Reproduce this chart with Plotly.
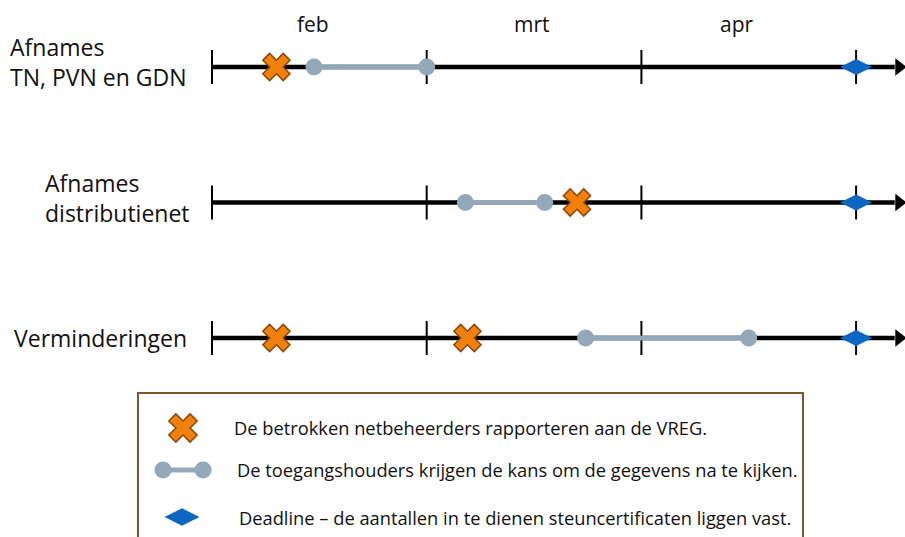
import plotly.graph_objects as go

# ---------------- data ----------------
row_labels = ["Afnames<br>TN, PVN en GDN", "Afnames<br>distributienet", "Verminderingen"]
month_labels = ["feb", "mrt", "apr"]
month_ticks = [0, 1, 2, 3]          # month boundaries (months since 1 feb)
timeline_end = 3.18                 # end of the arrow line (months)

# "De betrokken netbeheerders rapporteren aan de VREG."
report_rows = [0, 1, 2, 2]
report_x = [0.30, 1.70, 0.30, 1.19]

# "De toegangshouders krijgen de kans om de gegevens na te kijken."
review_rows = [0, 1, 2]
review_start = [0.475, 1.18, 1.74]
review_end = [1.00, 1.55, 2.50]

# Deadline
deadline_rows = [0, 1, 2]
deadline_x = [3.0, 3.0, 3.0]

legend_texts = [
    "De betrokken netbeheerders rapporteren aan de VREG.",
    "De toegangshouders krijgen de kans om de gegevens na te kijken.",
    "Deadline \u2013 de aantallen in te dienen steuncertificaten liggen vast.",
]

# ---------------- styles ----------------
ORANGE = "#F2800A"
ORANGE_EDGE = "#8A4508"
GREY = "#93A8B9"
BLUE = "#0B67C2"
BROWN = "#7F5530"
FONT = "Open Sans"
TXT = "#111111"
W, H = 905, 537

# pixel mapping of the axes (layout only)
X0_PX, MONTH_PX = 212, 214.7
Y0_PX, ROW_PX = 67, 135.5
x_range = [-X0_PX / MONTH_PX, (W - X0_PX) / MONTH_PX]
y_range = [(H - Y0_PX) / ROW_PX, -Y0_PX / ROW_PX]
tick_half = 17 / ROW_PX

fig = go.Figure()

# timeline base lines
for r in range(len(row_labels)):
    fig.add_trace(go.Scatter(x=[0, timeline_end], y=[r, r], mode="lines",
                             line=dict(color="black", width=4.5),
                             hoverinfo="skip", showlegend=False))
    fig.add_trace(go.Scatter(x=[timeline_end + 0.02], y=[r], mode="markers",
                             marker=dict(symbol="triangle-right", size=15, color="black"),
                             hoverinfo="skip", showlegend=False))
    tx, ty = [], []
    for t in month_ticks:
        tx += [t, t, None]
        ty += [r - tick_half, r + tick_half, None]
    fig.add_trace(go.Scatter(x=tx, y=ty, mode="lines",
                             line=dict(color="black", width=2),
                             hoverinfo="skip", showlegend=False))

# review periods
for r, s, e in zip(review_rows, review_start, review_end):
    fig.add_trace(go.Scatter(x=[s, e], y=[r, r], mode="lines+markers",
                             line=dict(color=GREY, width=5),
                             marker=dict(size=17, color=GREY),
                             hoverinfo="skip", showlegend=False))

# report markers
fig.add_trace(go.Scatter(x=report_x, y=report_rows, mode="markers",
                         marker=dict(symbol="x", size=24, color=ORANGE,
                                     line=dict(color=ORANGE_EDGE, width=1.5)),
                         hoverinfo="skip", showlegend=False))

# deadlines
fig.add_trace(go.Scatter(x=deadline_x, y=deadline_rows, mode="markers",
                         marker=dict(symbol="diamond-wide", size=23, color=BLUE),
                         hoverinfo="skip", showlegend=False))

# ---------------- legend (pixel overlay axes) ----------------
fig.add_trace(go.Scatter(x=[183], y=[428], mode="markers", xaxis="x2", yaxis="y2",
                         marker=dict(symbol="x", size=25, color=ORANGE,
                                     line=dict(color=ORANGE_EDGE, width=1.5)),
                         hoverinfo="skip", showlegend=False))
fig.add_trace(go.Scatter(x=[163, 203], y=[470, 470], mode="lines+markers", xaxis="x2", yaxis="y2",
                         line=dict(color=GREY, width=5), marker=dict(size=17, color=GREY),
                         hoverinfo="skip", showlegend=False))
fig.add_trace(go.Scatter(x=[182], y=[517], mode="markers", xaxis="x2", yaxis="y2",
                         marker=dict(symbol="diamond-wide", size=25, color=BLUE),
                         hoverinfo="skip", showlegend=False))

annotations = []
for txt, lx, ly in zip(legend_texts, [232, 235, 237], [427, 469, 517]):
    annotations.append(dict(text=txt, x=lx, y=ly, xref="x2", yref="y2",
                            xanchor="left", yanchor="middle", showarrow=False,
                            font=dict(family=FONT, size=18.3, color=TXT)))

# month labels
for m, mx in zip(month_labels, [313, 532, 737]):
    annotations.append(dict(text=m, x=mx, y=24, xref="x2", yref="y2",
                            showarrow=False, xanchor="center", yanchor="middle",
                            font=dict(family=FONT, size=21, color=TXT)))

# row labels
for lab, lx, ly in zip(row_labels, [8, 43, 12], [62, 198, 338]):
    annotations.append(dict(text=lab, x=lx, y=ly, xref="x2", yref="y2",
                            xanchor="left", yanchor="middle", align="left",
                            showarrow=False,
                            font=dict(family=FONT, size=23, color=TXT)))

fig.update_layout(
    width=W, height=H,
    margin=dict(l=0, r=0, t=0, b=0),
    paper_bgcolor="white", plot_bgcolor="white",
    xaxis=dict(range=x_range, visible=False, fixedrange=True),
    yaxis=dict(range=y_range, visible=False, fixedrange=True),
    xaxis2=dict(range=[0, W], visible=False, overlaying="x", fixedrange=True),
    yaxis2=dict(range=[H, 0], visible=False, overlaying="y", fixedrange=True),
    shapes=[dict(type="rect", xref="x2", yref="y2", x0=138, x1=803, y0=393, y1=560,
                 line=dict(color=BROWN, width=2), fillcolor="rgba(0,0,0,0)", layer="below")],
    annotations=annotations,
    showlegend=False,
)

fig.write_html("out.html", config={"displayModeBar": False},
               post_script="document.body.style.margin='0px';document.body.style.overflow='hidden';")
